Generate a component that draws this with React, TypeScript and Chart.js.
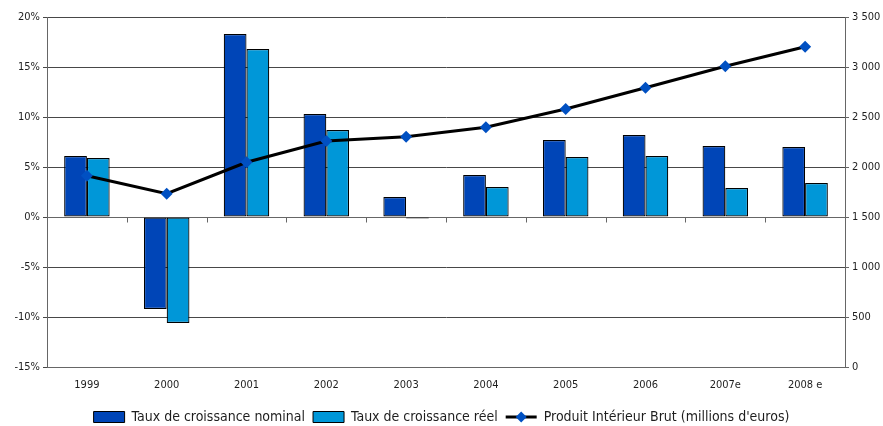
import React, { useEffect, useRef } from "react";
import { Chart, registerables } from "chart.js";

Chart.register(...registerables);

// Années
const years = ["1999", "2000", "2001", "2002", "2003", "2004", "2005", "2006", "2007e", "2008 e"];
// Taux de croissance (%)
const nominalGrowth = [6.1, -9.2, 18.3, 10.3, 2.0, 4.2, 7.7, 8.2, 7.1, 7.0];
const realGrowth = [5.9, -10.6, 16.8, 8.7, -0.15, 3.0, 6.0, 6.1, 2.9, 3.4];
// PIB en millions d'euros
const gdp = [1913, 1733, 2047, 2260, 2303, 2397, 2580, 2793, 3007, 3203];

const FONT = "'DejaVu Sans Condensed', 'DejaVu Sans', sans-serif";
const NOMINAL_COLOR = "#0045B7";
const REAL_COLOR = "#0097D8";
const DIAMOND_COLOR = "#0050C2";
const GRID_COLOR = "#474747";
const AXIS_COLOR = "#666666";
const TEXT_COLOR = "#1e1e1e";

const formatThousands = (v: number) =>
  String(v).replace(/\B(?=(\d{3})+(?!\d))/g, " ");

// Petites graduations des catégories posées sur la ligne du zéro,
// et symbole ligne + losange de la légende du PIB.
const extras = {
  id: "extras",
  beforeLayout(chart: any) {
    const legend = chart.legend;
    if (legend && !legend.__patched) {
      legend.__patched = true;
      const baseFit = legend.fit.bind(legend);
      legend.fit = function () {
        baseFit();
        this.height = 24;
      };
    }
  },
  beforeDatasetsDraw(chart: any) {
    const { ctx } = chart;
    const x = chart.scales.x;
    const y = chart.scales.y;
    const zeroY = Math.round(y.getPixelForValue(0)) + 0.5;
    ctx.save();
    ctx.strokeStyle = AXIS_COLOR;
    ctx.lineWidth = 1;
    ctx.beginPath();
    ctx.moveTo(chart.chartArea.left, zeroY);
    ctx.lineTo(chart.chartArea.right, zeroY);
    for (let i = 0; i < years.length - 1; i++) {
      const bx = Math.round((x.getPixelForTick(i) + x.getPixelForTick(i + 1)) / 2) + 0.5;
      ctx.moveTo(bx, zeroY);
      ctx.lineTo(bx, zeroY + 5);
    }
    ctx.stroke();
    ctx.restore();
  },
  afterDraw(chart: any) {
    const legend = chart.legend;
    if (!legend || !legend.legendHitBoxes) return;
    const box = legend.legendHitBoxes[2];
    if (!box) return;
    const { ctx } = chart;
    const bw = 31;
    const cy = box.top + box.height / 2;
    ctx.save();
    ctx.strokeStyle = "#000";
    ctx.lineWidth = 3;
    ctx.beginPath();
    ctx.moveTo(box.left, cy);
    ctx.lineTo(box.left + bw, cy);
    ctx.stroke();
    const cx = box.left + bw / 2;
    const r = 5.5;
    ctx.fillStyle = DIAMOND_COLOR;
    ctx.beginPath();
    ctx.moveTo(cx, cy - r);
    ctx.lineTo(cx + r, cy);
    ctx.lineTo(cx, cy + r);
    ctx.lineTo(cx - r, cy);
    ctx.closePath();
    ctx.fill();
    ctx.restore();
  },
};

export default function App() {
  const canvasRef = useRef<HTMLCanvasElement | null>(null);

  useEffect(() => {
    const canvas = canvasRef.current;
    if (!canvas) return;
    const chart = new Chart(canvas, {
      type: "bar",
      data: {
        labels: years,
        datasets: [
          {
            type: "bar",
            label: "Taux de croissance nominal",
            data: nominalGrowth,
            backgroundColor: NOMINAL_COLOR,
            borderColor: "#000",
            borderWidth: 1.2,
            borderSkipped: false,
            yAxisID: "y",
            order: 1,
            barPercentage: 1,
            categoryPercentage: 0.57,
          },
          {
            type: "bar",
            label: "Taux de croissance réel",
            data: realGrowth,
            backgroundColor: REAL_COLOR,
            borderColor: "#000",
            borderWidth: 1.2,
            borderSkipped: false,
            yAxisID: "y",
            order: 1,
            barPercentage: 1,
            categoryPercentage: 0.57,
          },
          {
            type: "line",
            label: "Produit Intérieur Brut (millions d'euros)",
            data: gdp,
            borderColor: "#000",
            borderWidth: 3,
            backgroundColor: DIAMOND_COLOR,
            pointStyle: "rectRot",
            pointRadius: 6,
            pointBackgroundColor: DIAMOND_COLOR,
            pointBorderColor: DIAMOND_COLOR,
            pointBorderWidth: 0,
            tension: 0,
            yAxisID: "y1",
            order: 0,
          },
        ],
      },
      options: {
        responsive: false,
        animation: false,
        layout: { padding: { top: 17, left: 0, right: 0, bottom: 0 } },
        plugins: {
          tooltip: { enabled: false },
          legend: {
            position: "bottom",
            labels: {
              boxWidth: 31,
              boxHeight: 11,
              padding: 8,
              color: TEXT_COLOR,
              font: { family: FONT, size: 14 },
              sort: (a: any, b: any) => a.datasetIndex - b.datasetIndex,
              generateLabels: (c: any) => {
                const items = Chart.defaults.plugins.legend.labels.generateLabels(c);
                return items.map((it: any) => {
                  if (it.datasetIndex === 2) {
                    return { ...it, fillStyle: "rgba(0,0,0,0)", strokeStyle: "rgba(0,0,0,0)", lineWidth: 0 };
                  }
                  return { ...it, strokeStyle: "#000", lineWidth: 1 };
                });
              },
            },
          },
        },
        scales: {
          x: {
            offset: true,
            grid: { display: false, drawTicks: false },
            border: { display: true, color: AXIS_COLOR },
            ticks: {
              color: TEXT_COLOR,
              font: { family: FONT, size: 11 },
              padding: 12,
              maxRotation: 0,
              autoSkip: false,
            },
            afterFit: (s: any) => {
              s.height = 35;
            },
          },
          y: {
            position: "left",
            min: -15,
            max: 20,
            grid: {
              color: GRID_COLOR,
              lineWidth: 1,
              tickLength: 4,
              drawTicks: true,
            },
            border: { display: true, color: AXIS_COLOR, width: 1 },
            ticks: {
              stepSize: 5,
              color: TEXT_COLOR,
              font: { family: FONT, size: 11 },
              padding: 3,
              callback: (v: any) => `${v}%`,
            },
            afterFit: (s: any) => {
              s.width = 47;
            },
          },
          y1: {
            position: "right",
            min: 0,
            max: 3500,
            grid: {
              drawOnChartArea: false,
              color: AXIS_COLOR,
              tickLength: 4,
            },
            border: { display: true, color: AXIS_COLOR, width: 1 },
            ticks: {
              stepSize: 500,
              color: TEXT_COLOR,
              font: { family: FONT, size: 11 },
              padding: 3,
              callback: (v: any) => formatThousands(Number(v)),
            },
            afterFit: (s: any) => {
              s.width = 38;
            },
          },
        },
      },
      plugins: [extras],
    });
    return () => chart.destroy();
  }, []);

  return (
    <div style={{ position: "fixed", left: 0, top: 0, width: 883, height: 426, background: "#fff" }}>
      <canvas ref={canvasRef} width={883} height={426} />
    </div>
  );
}
